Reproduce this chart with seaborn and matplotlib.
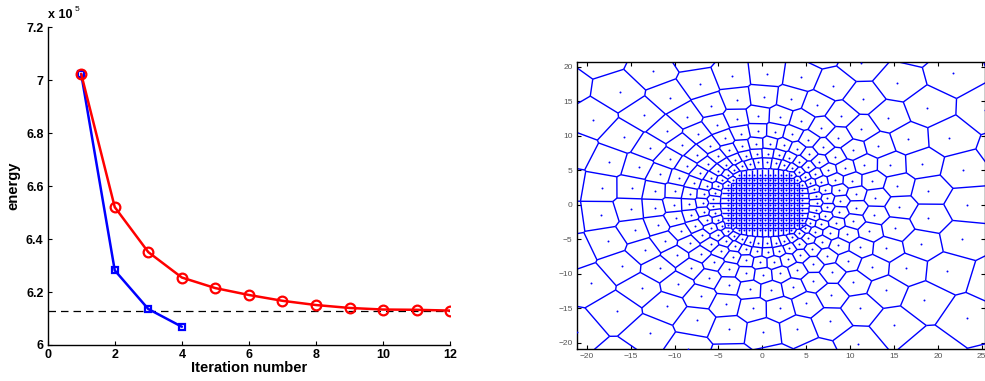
import numpy as np
import pandas as pd
import matplotlib
matplotlib.use("Agg")
import matplotlib.pyplot as plt
import matplotlib.tri as mtri
from matplotlib.collections import LineCollection
from matplotlib.ticker import FuncFormatter
import seaborn as sns

# ---------------- data: energy vs iteration (units of 1e5) ----------------
iter_red = [1, 2, 3, 4, 5, 6, 7, 8, 9, 10, 11, 12]
energy_red = [7.024, 6.521, 6.351, 6.255, 6.215, 6.189, 6.167, 6.151, 6.140, 6.134, 6.133, 6.130]
iter_blue = [1, 2, 3, 4]
energy_blue = [7.024, 6.282, 6.136, 6.069]
energy_ref = 6.130
x_ticks_left = [0, 2, 4, 6, 8, 10, 12]
y_ticks_left = [6.0, 6.2, 6.4, 6.6, 6.8, 7.0, 7.2]

# ---------------- data: Voronoi generators (read approx. from picture) ----------------
grid_x = [-3.9, -3.3, -2.7, -2.1, -1.5, -0.9, -0.3, 0.3, 0.9, 1.5, 2.1, 2.7, 3.3, 3.9, 4.5]
grid_y = [-3.65, -2.93, -2.21, -1.49, -0.77, -0.05, 0.67, 1.39, 2.11, 2.83, 3.55, 4.27]
ring_center = (0.3, 0.3)
ring_r = [5.9, 7.1, 8.6, 10.4, 12.6, 15.3, 18.7, 23.0, 28.5, 35.5, 44.0, 55.0, 70.0]
ring_n = [37, 35, 34, 33, 32, 31, 30, 29, 28, 27, 26, 24, 22]
ring_phase = [0.0, 0.5, 0.15, 0.65, 0.3, 0.8, 0.45, 0.95, 0.2, 0.7, 0.35, 0.85, 0.0]
x_ticks_right = [-20, -15, -10, -5, 0, 5, 10, 15, 20, 25]
y_ticks_right = [-20, -15, -10, -5, 0, 5, 10, 15, 20]

sns.set_style("ticks")
plt.rcParams["font.family"] = ["Liberation Sans", "DejaVu Sans"]
plt.rcParams["text.color"] = "black"
plt.rcParams["axes.labelcolor"] = "black"

fig = plt.figure(figsize=(9.85, 3.81), dpi=100)

# ---------------- left panel ----------------
ax = fig.add_axes([0.0484, 0.0945, 0.4086, 0.8335])
red = "#ff0000"
blue = "#0000ff"
df_blue = pd.DataFrame({"iteration": iter_blue, "energy": energy_blue})
df_red = pd.DataFrame({"iteration": iter_red, "energy": energy_red})
ax.axhline(energy_ref, color="black", lw=0.9, ls=(0, (6, 4)), zorder=1)
sns.lineplot(data=df_blue, x="iteration", y="energy", ax=ax, color=blue, lw=1.8,
             marker="s", markersize=5, markerfacecolor="none", markeredgecolor=blue,
             markeredgewidth=1.6, zorder=3)
sns.lineplot(data=df_red, x="iteration", y="energy", ax=ax, color=red, lw=1.8,
             marker="o", markersize=7, markerfacecolor="none", markeredgecolor=red,
             markeredgewidth=1.6, zorder=4)
ax.set_xlim(0, 12)
ax.set_ylim(6.0, 7.2)
ax.set_xticks(x_ticks_left)
ax.set_yticks(y_ticks_left)
ax.yaxis.set_major_formatter(FuncFormatter(lambda v, p: f"{v:g}"))
ax.tick_params(direction="in", length=3, width=0.8, labelsize=9, pad=3,
               colors="black", labelcolor="black")
for lab in ax.get_xticklabels() + ax.get_yticklabels():
    lab.set_fontweight("bold")
ax.set_xlabel("Iteration number", fontsize=10.6, fontweight="bold", labelpad=0)
ax.set_ylabel("energy", fontsize=10.6, fontweight="bold", labelpad=4)
sns.despine(ax=ax)
for s in ["left", "bottom"]:
    ax.spines[s].set_linewidth(1.0)
    ax.spines[s].set_color("black")
ax.text(0.0, 1.019, "x 10", transform=ax.transAxes, fontsize=9, fontweight="bold",
        ha="left", va="bottom")
ax.text(0.066, 1.045, "5", transform=ax.transAxes, fontsize=6, ha="left", va="bottom")

# ---------------- right panel: Voronoi diagram ----------------
cx0, cy0 = ring_center
gx, gy = np.meshgrid(np.array(grid_x), np.array(grid_y))
gx = gx.ravel(); gy = gy.ravel()
keep = np.hypot(gx - cx0, gy - cy0) <= 5.3
px = list(gx[keep]); py = list(gy[keep])
for r, n, ph in zip(ring_r, ring_n, ring_phase):
    ang = 2 * np.pi * (np.arange(n) + ph) / n
    px += list(cx0 + r * np.cos(ang)); py += list(cy0 + r * np.sin(ang))
px = np.array(px); py = np.array(py)

tri = mtri.Triangulation(px, py)
T = tri.triangles
ax_ = px[T[:, 0]]; ay_ = py[T[:, 0]]
bx_ = px[T[:, 1]]; by_ = py[T[:, 1]]
cx_ = px[T[:, 2]]; cy_ = py[T[:, 2]]
d = 2 * (ax_ * (by_ - cy_) + bx_ * (cy_ - ay_) + cx_ * (ay_ - by_))
ux = ((ax_**2 + ay_**2) * (by_ - cy_) + (bx_**2 + by_**2) * (cy_ - ay_) + (cx_**2 + cy_**2) * (ay_ - by_)) / d
uy = ((ax_**2 + ay_**2) * (cx_ - bx_) + (bx_**2 + by_**2) * (ax_ - cx_) + (cx_**2 + cy_**2) * (bx_ - ax_)) / d
segs = []
nb = tri.neighbors
for i in range(len(T)):
    for j in nb[i]:
        if j > i:
            segs.append([(ux[i], uy[i]), (ux[j], uy[j])])

ax2 = fig.add_axes([0.5855, 0.084, 0.4145, 0.753])
ax2.add_collection(LineCollection(segs, colors=blue, linewidths=1.0, zorder=2))
df_pts = pd.DataFrame({"x": px, "y": py})
sns.scatterplot(data=df_pts, x="x", y="y", ax=ax2, color=blue, s=2.0, linewidth=0, zorder=3)
ax2.set_xlim(-21.14, 25.37)
ax2.set_ylim(-20.9, 20.7)
ax2.set_xticks(x_ticks_right)
ax2.set_yticks(y_ticks_right)
ax2.set_xlabel(""); ax2.set_ylabel("")
ax2.tick_params(direction="in", length=3, width=0.8, labelsize=6, labelcolor="#555555",
                colors="black", top=True, right=True, pad=3)
ax2.tick_params(labelcolor="#555555")
for s in ax2.spines.values():
    s.set_linewidth(1.0)
    s.set_color("black")

fig.savefig("out.png", dpi=100)
